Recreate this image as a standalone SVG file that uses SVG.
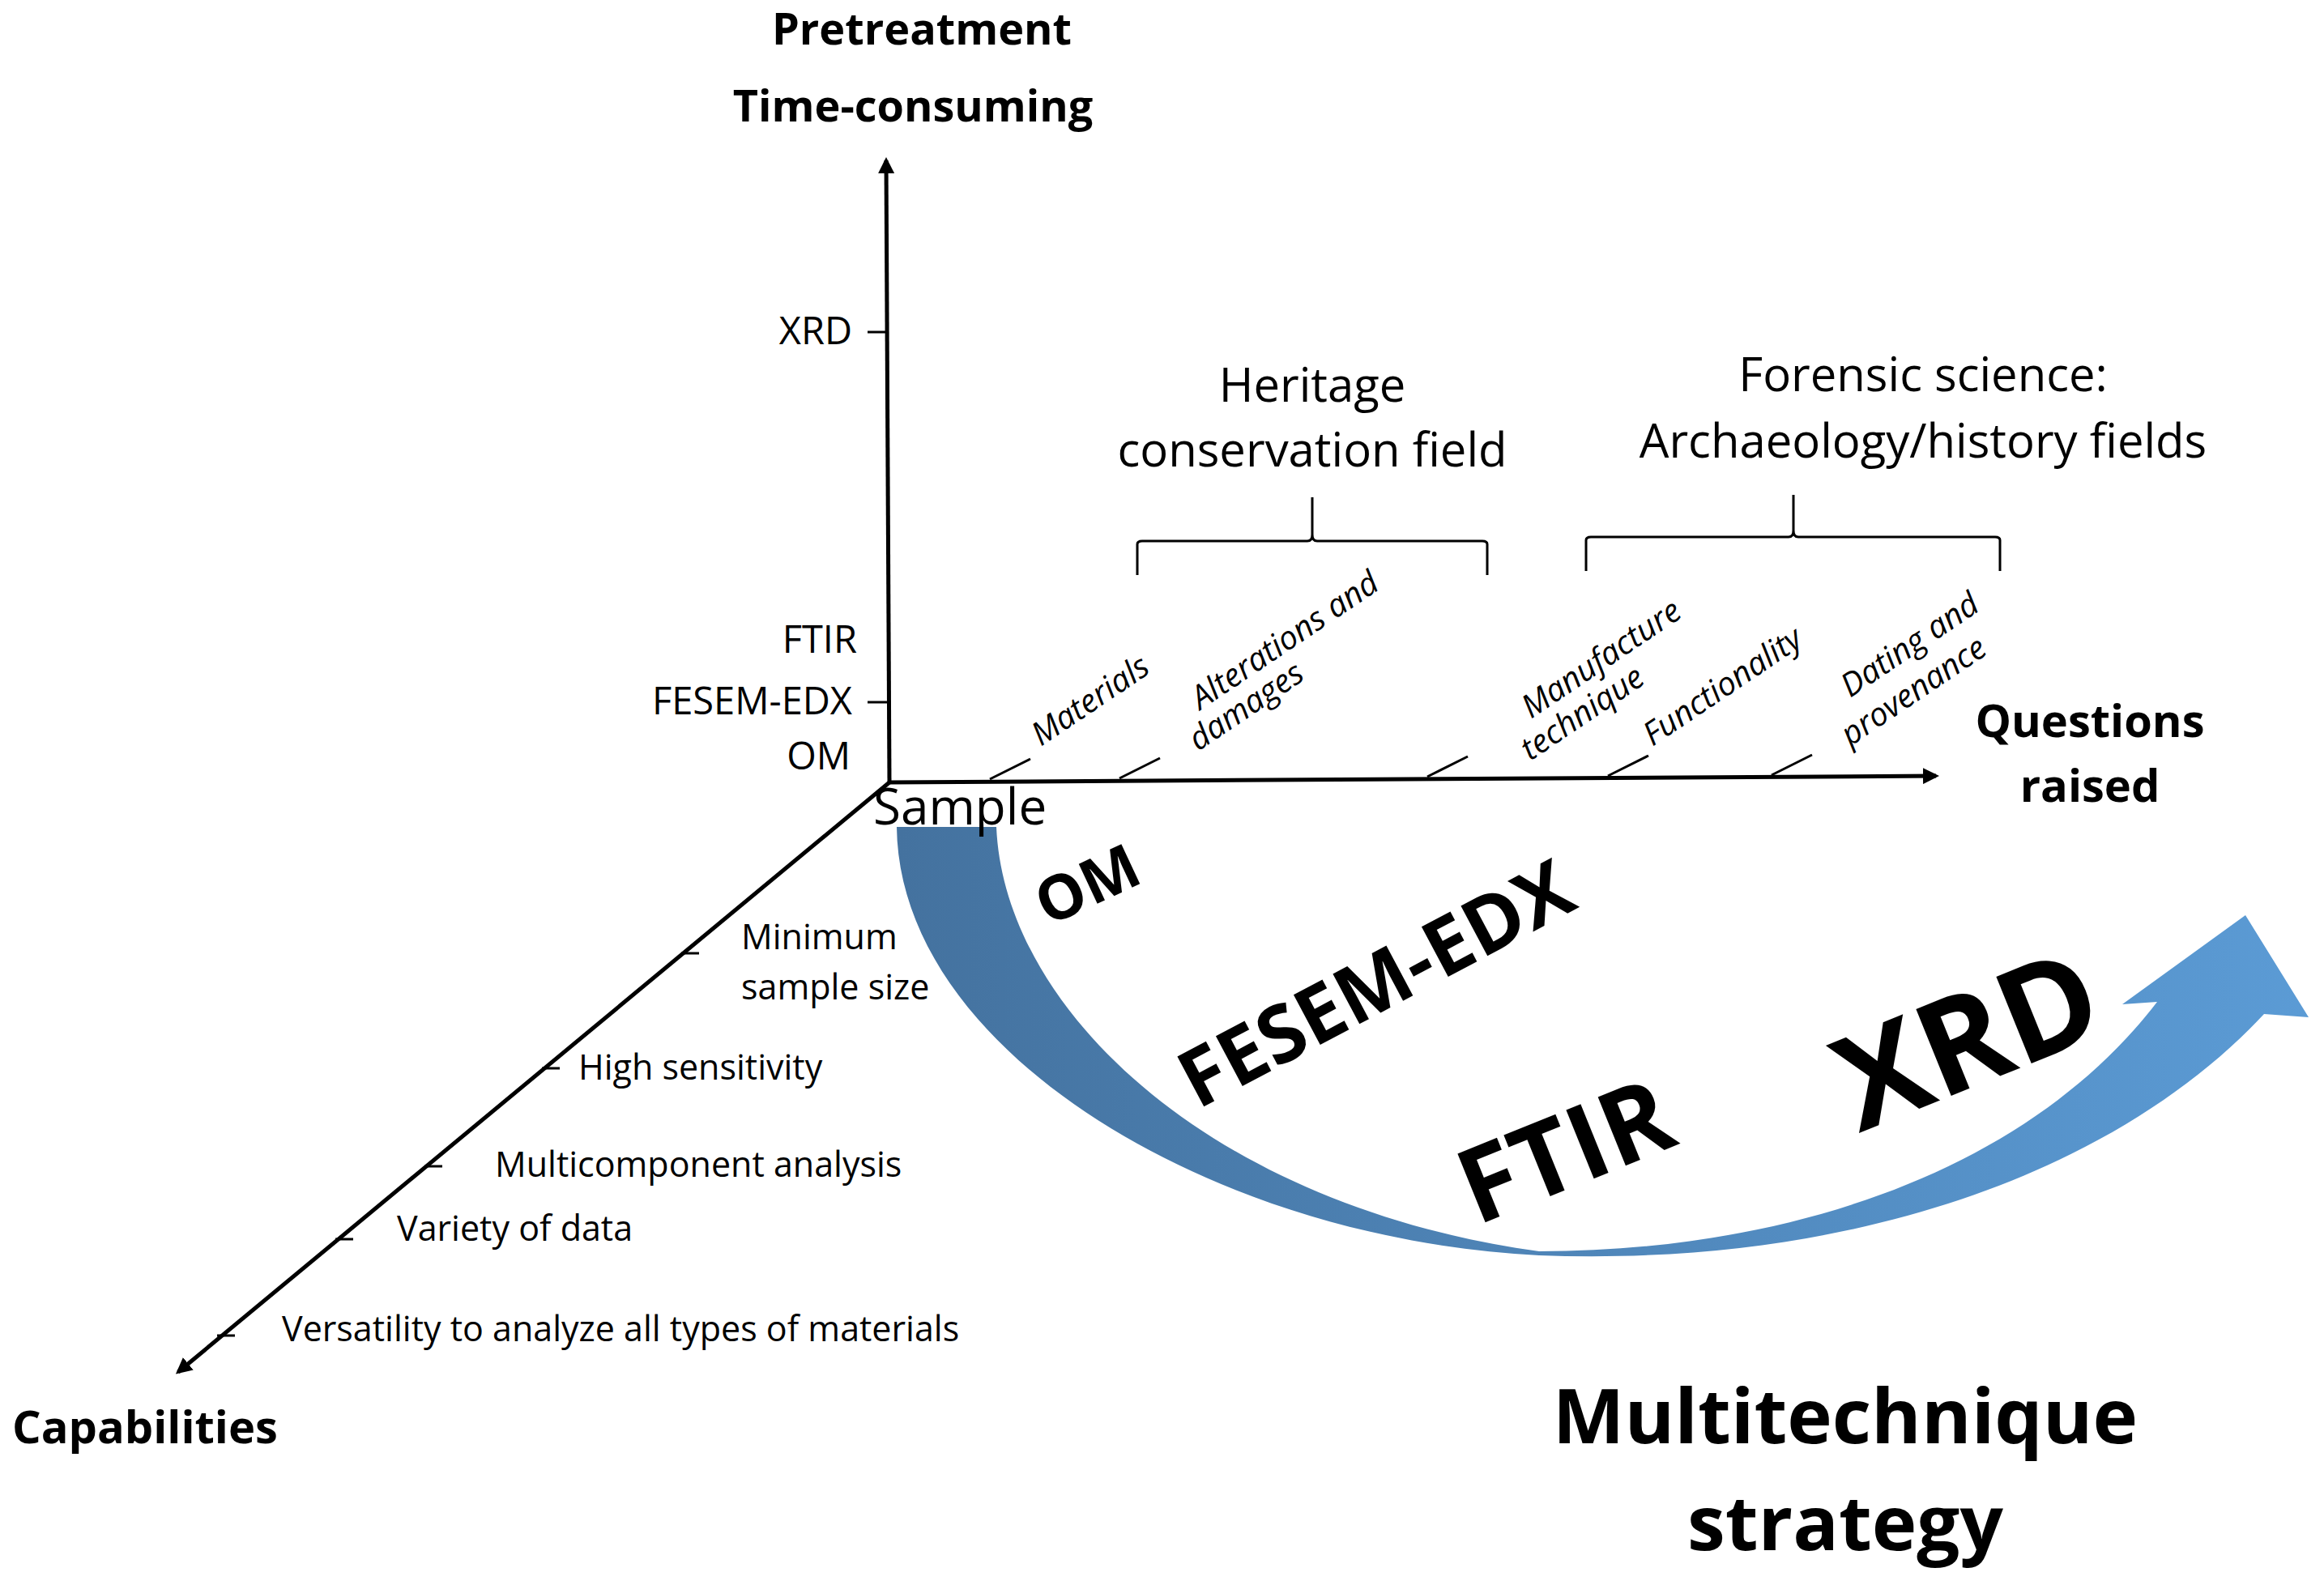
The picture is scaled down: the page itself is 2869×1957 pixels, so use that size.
<svg xmlns="http://www.w3.org/2000/svg" width="2869" height="1957" viewBox="0 0 2869 1957">
<style>
text{font-family:"Open Sans","Liberation Sans",sans-serif;fill:#000}
.b{font-weight:bold}
.ax{stroke:#000;stroke-width:5;fill:none}
.tk{stroke:#000;stroke-width:3;fill:none}
.it{font-style:italic;font-size:40px}
.cap{font-size:43px}
.ylab{font-size:47px;text-anchor:end;dominant-baseline:middle}
</style>
<defs>
<marker id="ah" viewBox="0 0 10 10" refX="8" refY="5" markerWidth="4" markerHeight="4" orient="auto"><path d="M0,0L10,5L0,10z" fill="#000"/></marker>
<linearGradient id="g" x1="0" y1="0" x2="1" y2="0"><stop offset="0" stop-color="#44729f"/><stop offset="1" stop-color="#5b9bd5"/></linearGradient>
</defs>
<g id="connectors">
<line class="ax" x1="1098" y1="966" x2="1094" y2="198" marker-end="url(#ah)"/>
<line class="ax" x1="1098" y1="966" x2="2390" y2="958" marker-end="url(#ah)"/>
<line class="ax" x1="1098" y1="966" x2="220" y2="1694" marker-end="url(#ah)"/>
<line class="tk" x1="1071" y1="410" x2="1094" y2="410"/>
<line class="tk" x1="1071" y1="867" x2="1096" y2="867"/>
<line class="tk" x1="1222" y1="962" x2="1272" y2="937"/>
<line class="tk" x1="1382" y1="961" x2="1432" y2="936"/>
<line class="tk" x1="1762" y1="959" x2="1812" y2="934"/>
<line class="tk" x1="1985" y1="958" x2="2035" y2="933"/>
<line class="tk" x1="2187" y1="957" x2="2237" y2="932"/>
<line class="tk" x1="841" y1="1177" x2="863" y2="1177"/>
<line class="tk" x1="669" y1="1319" x2="691" y2="1319"/>
<line class="tk" x1="524" y1="1440" x2="546" y2="1440"/>
<line class="tk" x1="414" y1="1530" x2="436" y2="1530"/>
<line class="tk" x1="268" y1="1649" x2="290" y2="1649"/>
<path class="tk" d="M1404,710 V672 Q1404,668 1410,668 H1614 Q1620,668 1620,660 V614 M1620,614 V660 Q1620,668 1626,668 H1830 Q1836,668 1836,672 V710"/>
<path class="tk" d="M1958,705 V667 Q1958,663 1964,663 H2208 Q2214,663 2214,655 V611 M2214,611 V655 Q2214,663 2220,663 H2463 Q2469,663 2469,667 V705"/>
</g>
<g id="arrow">
<path fill="url(#g)" d="M1107,1021 C1110,1300 1500,1530 1900,1550 C2300,1565 2620,1440 2795,1252 L2850,1256 L2772,1130 L2620,1240 L2663,1237 C2500,1450 2200,1545 1900,1545 C1500,1490 1240,1250 1230,1021 Z"/>
<text class="b" font-size="76" transform="translate(1345,1098) rotate(-25)" text-anchor="middle" dominant-baseline="middle">OM</text>
<text class="b" font-size="98" transform="translate(1702,1222) rotate(-28)" text-anchor="middle" dominant-baseline="middle">FESEM-EDX</text>
<text class="b" font-size="128" transform="translate(1936,1431) rotate(-22)" text-anchor="middle" dominant-baseline="middle">FTIR</text>
<text class="b" font-size="162" transform="translate(2434,1296) rotate(-22)" text-anchor="middle" dominant-baseline="middle">XRD</text>
</g>
<g id="labels">
<text class="b" font-size="54" x="1138" y="55" text-anchor="middle">Pretreatment</text>
<text class="b" font-size="54" x="1127" y="150" text-anchor="middle">Time-consuming</text>
<text class="ylab" x="1052" y="412">XRD</text>
<text class="ylab" x="1058" y="793">FTIR</text>
<text class="ylab" x="1052" y="869">FESEM-EDX</text>
<text class="ylab" x="1050" y="937">OM</text>
<text font-size="62" x="1078" y="1018">Sample</text>
<text class="b" font-size="56" x="2580" y="910" text-anchor="middle">Questions</text>
<text class="b" font-size="56" x="2580" y="990" text-anchor="middle">raised</text>
<text font-size="58" x="1620" y="496" text-anchor="middle">Heritage</text>
<text font-size="58" x="1620" y="576" text-anchor="middle">conservation field</text>
<text font-size="58" x="2374" y="483" text-anchor="middle">Forensic science:</text>
<text font-size="58" x="2374" y="565" text-anchor="middle">Archaeology/history fields</text>
<text class="it" transform="translate(1285,922) rotate(-34)">Materials</text>
<text class="it" transform="translate(1482,877) rotate(-34)">Alterations and</text>
<text class="it" transform="translate(1479,928) rotate(-34)">damages</text>
<text class="it" transform="translate(1890,888) rotate(-34)">Manufacture</text>
<text class="it" transform="translate(1889,940) rotate(-34)">technique</text>
<text class="it" transform="translate(2040,922) rotate(-34)">Functionality</text>
<text class="it" transform="translate(2284,862) rotate(-34)">Dating and</text>
<text class="it" transform="translate(2284,922) rotate(-34)">provenance</text>
<text class="cap" x="915" y="1172">Minimum</text>
<text class="cap" x="915" y="1234">sample size</text>
<text class="cap" x="714" y="1333">High sensitivity</text>
<text class="cap" x="611" y="1453">Multicomponent analysis</text>
<text class="cap" x="490" y="1532">Variety of data</text>
<text class="cap" x="348" y="1656">Versatility to analyze all types of materials</text>
<text class="b" font-size="56" x="15" y="1782">Capabilities</text>
<text class="b" font-size="94" x="2278" y="1782" text-anchor="middle">Multitechnique</text>
<text class="b" font-size="94" x="2278" y="1914" text-anchor="middle">strategy</text>
</g>
</svg>
